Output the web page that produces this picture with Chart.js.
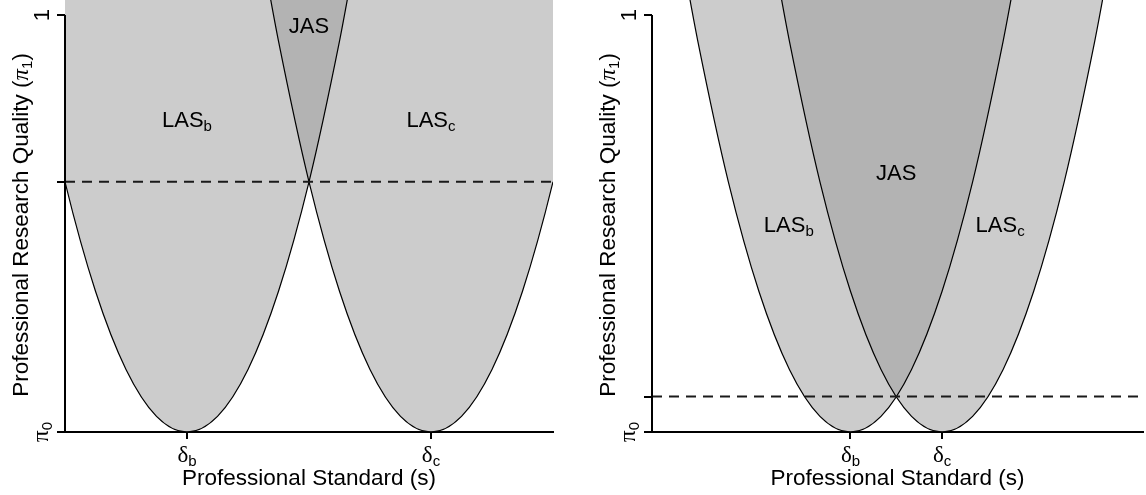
<!DOCTYPE html>
<html>
<head>
<meta charset="utf-8">
<script src="https://cdn.jsdelivr.net/npm/chart.js@4.4.1/dist/chart.umd.min.js"></script>
<style>
  html, body { margin: 0; padding: 0; background: #fff; }
  .wrap { display: flex; width: 1146px; height: 495px; }
</style>
</head>
<body>
<div class="wrap">
  <canvas id="leftChart" width="573" height="495"></canvas>
  <canvas id="rightChart" width="573" height="495"></canvas>
</div>
<script>
// professional standards of the two groups (δb, δc) and the quality cut-off (dashed line)
const leftDeltas = [1, 3];
const leftCutoff = 0.6;
const rightDeltas = [1.625, 2.375];
const rightCutoff = 0.085;
const deltaSubs = ['b', 'c'];

// acceptance boundary: distance from δ vs. quality
const boundaryOffset = [-1.35, -1.25, -1, -0.75, -0.5, -0.25, 0, 0.25, 0.5, 0.75, 1, 1.25, 1.35];
const boundaryQuality = [1.094, 0.9375, 0.6, 0.3375, 0.15, 0.0375, 0, 0.0375, 0.15, 0.3375, 0.6, 0.9375, 1.094];

// region names (text, subscript, s, quality)
const leftRegions = [['LAS', 'b', 1, 0.75], ['JAS', '', 2, 0.976], ['LAS', 'c', 3, 0.75]];
const rightRegions = [['JAS', '', 2, 0.624], ['LAS', 'b', 1.12, 0.5], ['LAS', 'c', 2.85, 0.5]];

const SANS = '"Liberation Sans", Arial, sans-serif';
const SERIF = '"Liberation Serif", "Times New Roman", serif';

// draws a run of text pieces centred on x, baseline y
function drawRich(ctx, x, y, parts, angle) {
    ctx.save();
    ctx.translate(x, y);
    ctx.rotate(angle || 0);
    ctx.textAlign = 'left';
    ctx.textBaseline = 'alphabetic';
    ctx.fillStyle = '#000';
    let total = 0;
    parts.forEach(p => { ctx.font = p.font; total += ctx.measureText(p.text).width; });
    let cx = -total / 2;
    parts.forEach(p => {
        ctx.font = p.font;
        ctx.fillText(p.text, cx, p.dy || 0);
        cx += ctx.measureText(p.text).width;
    });
    ctx.restore();
}

function boundary(delta) {
    return boundaryOffset.map((d, i) => ({ x: delta + d, y: boundaryQuality[i] }));
}

function buildPanel(id, deltas, cutoff, xMax, regions, pad) {
    const datasets = [{
        data: [{ x: 0, y: cutoff }, { x: xMax, y: cutoff }],
        borderColor: '#1a1a1a',
        borderWidth: 2,
        borderDash: [10, 7],
        pointRadius: 0,
        fill: false
    }];
    deltas.forEach(d => {
        datasets.push({
            data: boundary(d),
            borderColor: '#000',
            borderWidth: 1.2,
            backgroundColor: 'rgba(155, 155, 155, 0.51)', // overlap gives the darker JAS
            fill: 'end',
            cubicInterpolationMode: 'monotone',
            capBezierPoints: false,
            pointRadius: 0
        });
    });

    const labels = {
        id: 'labels',
        afterDraw(chart) {
            const ctx = chart.ctx;
            const xs = chart.scales.x, ys = chart.scales.y;
            const area = chart.chartArea;

            // y axis spine, only between π0 and 1
            ctx.save();
            ctx.strokeStyle = '#000';
            ctx.lineWidth = 2;
            ctx.beginPath();
            ctx.moveTo(area.left, ys.getPixelForValue(1));
            ctx.lineTo(area.left, ys.getPixelForValue(0) + 1);
            ctx.stroke();
            ctx.restore();

            // region names
            regions.forEach(r => {
                drawRich(ctx, xs.getPixelForValue(r[2]), ys.getPixelForValue(r[3]) + 8, [
                    { text: r[0], font: '22px ' + SANS },
                    { text: r[1], font: '15px ' + SANS, dy: 4 }
                ]);
            });

            // x tick labels
            deltas.forEach((d, i) => {
                drawRich(ctx, xs.getPixelForValue(d), 462, [
                    { text: 'δ', font: '23px ' + SERIF },
                    { text: deltaSubs[i], font: '15px ' + SANS, dy: 4 }
                ]);
            });

            // x title
            drawRich(ctx, (area.left + area.right) / 2, 485, [
                { text: 'Professional Standard (s)', font: '22.5px ' + SANS }
            ]);

            // y tick labels and title (rotated)
            const up = -Math.PI / 2;
            drawRich(ctx, area.left - 16, ys.getPixelForValue(1), [
                { text: '1', font: '22px ' + SANS }
            ], up);
            drawRich(ctx, area.left - 17, ys.getPixelForValue(0), [
                { text: 'π', font: '23px ' + SERIF },
                { text: '0', font: '15px ' + SANS, dy: 4 }
            ], up);
            drawRich(ctx, area.left - 37, 225, [
                { text: 'Professional Research Quality (', font: '22.5px ' + SANS },
                { text: 'π', font: 'italic 23px ' + SERIF },
                { text: '1', font: '15px ' + SANS, dy: 4 },
                { text: ')', font: '22.5px ' + SANS }
            ], up);
        }
    };

    return new Chart(document.getElementById(id), {
        type: 'line',
        data: { datasets: datasets },
        options: {
            responsive: false,
            animation: false,
            layout: { padding: pad },
            plugins: {
                legend: { display: false },
                tooltip: { enabled: false },
                filler: { drawTime: 'beforeDatasetsDraw' }
            },
            scales: {
                x: {
                    type: 'linear',
                    min: 0,
                    max: xMax,
                    border: { display: true, color: '#000', width: 2 },
                    grid: { drawOnChartArea: false, drawTicks: true, tickLength: 7, color: '#000', lineWidth: 2 },
                    ticks: { display: false },
                    afterBuildTicks: s => { s.ticks = deltas.map(v => ({ value: v })); }
                },
                y: {
                    type: 'linear',
                    min: 0,
                    max: 1.036,
                    border: { display: false },
                    grid: { drawOnChartArea: false, drawTicks: true, tickLength: 8, color: '#000', lineWidth: 2 },
                    ticks: { display: false },
                    afterBuildTicks: s => { s.ticks = [0, cutoff, 1].map(v => ({ value: v })); }
                }
            }
        },
        plugins: [labels]
    });
}

buildPanel('leftChart', leftDeltas, leftCutoff, 4, leftRegions, { left: 57, right: 20, top: 0, bottom: 56 });
buildPanel('rightChart', rightDeltas, rightCutoff, 4.02, rightRegions, { left: 71, right: 3, top: 0, bottom: 56 });
</script>
</body>
</html>
